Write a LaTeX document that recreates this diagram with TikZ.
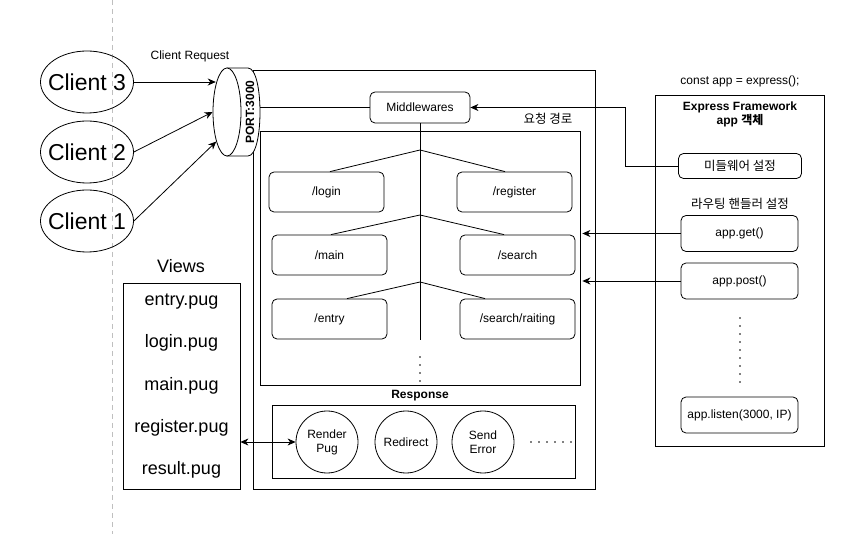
\documentclass[tikz,border=0pt]{standalone}
\usepackage{fontspec}
\setmainfont{Liberation Sans}
\newfontfamily\kr{Noto Sans CJK KR}
\usetikzlibrary{arrows.meta,shapes.geometric}
\begin{document}
\begin{tikzpicture}[x=1pt,y=-1pt,line width=0.8pt,
  base/.style={font=\fontsize{12}{14}\selectfont},
  krtext/.style={font=\fontsize{12.5}{14}\selectfont\kr},
  client/.style={ellipse,draw,minimum width=93pt,minimum height=62pt,inner xsep=-7pt,inner ysep=0pt,font=\fontsize{23}{26}\selectfont},
  rbox/.style={draw,rounded corners=5pt,minimum width=115pt,minimum height=40pt,inner sep=0pt,font=\fontsize{12}{14}\selectfont},
  circ/.style={circle,draw,minimum size=62pt,inner sep=0pt,align=center,font=\fontsize{12}{14}\selectfont},
  plainbox/.style={draw,inner sep=0pt},
  view/.style={font=\fontsize{18}{20}\selectfont},
  arr/.style={-{Stealth[length=8pt,width=7pt,inset=2.5pt]}},
  dotline/.style={dash pattern=on 0pt off 8pt,line cap=round,line width=1.8pt},
  sepline/.style={draw=black!25,dash pattern=on 5pt off 4pt,line width=0.8pt}]
\path[use as bounding box] (0,0) rectangle (865,534);
\draw[sepline] (112,0) -- (112,534);

% clients
\node[client] (c3) at (87,82) {Client 3};
\node[client] (c2) at (87,152) {Client 2};
\node[client] (c1) at (87,221) {Client 1};
\node[base] (creq) at (190,56) {Client Request};

% server
\node[plainbox,minimum width=342pt,minimum height=419pt] (server) at (424,279.5) {};
\node[plainbox,minimum width=320pt,minimum height=254pt] (routes) at (420,258) {};
\node[krtext] (path) at (548,119) {요청 경로};
\node[rbox,minimum width=100pt,minimum height=31pt] (mw) at (420,107.5) {Middlewares};

% cylinder
\draw[fill=white] (227,68) -- (248,68) .. controls (264,68) and (264,156) .. (248,156) -- (227,156) -- cycle;
\node[ellipse,draw,fill=white,minimum width=28pt,minimum height=88pt,inner sep=0pt] (port) at (227,112) {};
\node[rotate=90,font=\fontsize{12}{14}\selectfont\bfseries] (porttext) at (250,112) {PORT:3000};
\coordinate (portR) at (260,107.5);
\draw (portR) -- (mw.west);

\draw[arr] (c3.east) -- (c3.east -| port.112);
\draw[arr] (c2.east) -- (port.west);
\draw[arr] (c1.east) -- (port.250);

% routes
\node[rbox] (login) at (326.5,192) {/login};
\node[rbox] (register) at (514.5,192) {/register};
\node[rbox] (main) at (329.5,255) {/main};
\node[rbox] (search) at (517.5,255) {/search};
\node[rbox] (entry) at (329.5,319) {/entry};
\node[rbox] (raiting) at (517.5,319) {/search/raiting};

\coordinate (trunkend) at (420,340);
\draw (mw.south) -- (trunkend);
\coordinate (b1) at (420,150);
\coordinate (b2) at (420,215);
\coordinate (b3) at (420,282);
\draw ([xshift=3.5pt]login.north) -- (b1) -- ([xshift=-9.5pt]register.north);
\draw ([xshift=1.5pt]main.north) -- (b2) -- ([xshift=-13.5pt]search.north);
\draw ([xshift=17.5pt]entry.north) -- (b3) -- ([xshift=-32.5pt]raiting.north);
\draw[dotline] (420,357) -- (420,382);

% response
\node[font=\fontsize{12}{14}\selectfont\bfseries] (resplabel) at (420,396) {Response};
\node[plainbox,minimum width=303pt,minimum height=73pt] (resp) at (423.5,442) {};
\node[circ] (render) at (327,442) {Render\\Pug};
\node[circ] (redirect) at (406,442) {Redirect};
\node[circ] (senderr) at (483,442) {Send\\Error};
\draw[dotline] (531,442) -- (572,442);

% views
\node[view] (viewslabel) at (181,266) {Views};
\node[plainbox,minimum width=117pt,minimum height=206pt] (views) at (181.5,386) {};
\node[view] (v1) at (181.5,302) {entry.pug};
\node[view] (v2) at (181.5,343) {login.pug};
\node[view] (v3) at (181.5,386) {main.pug};
\node[view] (v4) at (181.5,428) {register.pug};
\node[view] (v5) at (181.5,470) {result.pug};
\draw[{Stealth[length=8pt,width=7pt,inset=2.5pt]}-{Stealth[length=8pt,width=7pt,inset=2.5pt]}] (views.east |- render.west) -- (render.west);

% express
\node[base] (constapp) at (740,81) {const app = express();};
\node[plainbox,minimum width=169pt,minimum height=351pt] (express) at (740,270.5) {};
\node[font=\fontsize{12}{14}\selectfont\bfseries,align=center] (extitle) at (740,114) {Express Framework\\app {\kr 객체}};
\node[rbox,minimum width=123pt,minimum height=25pt,font=\fontsize{12.5}{14}\selectfont\kr] (mwset) at (740,166) {미들웨어 설정};
\node[krtext] (routinglabel) at (740,204) {라우팅 핸들러 설정};
\node[rbox,minimum width=117pt,minimum height=36pt] (get) at (739.5,233.5) {app.get()};
\node[rbox,minimum width=117pt,minimum height=36pt] (post) at (739.5,281) {app.post()};
\draw[dotline] (740,318) -- (740,382);
\node[rbox,minimum width=117pt,minimum height=36pt] (listen) at (739.5,415) {app.listen(3000, IP)};

\draw[arr] (mwset.west) -- ++(-53,0) |- (mw.east);
\draw[arr] (get.west) -- ([xshift=2pt]get.west -| routes.east);
\draw[arr] (post.west) -- ([xshift=2pt]post.west -| routes.east);
\end{tikzpicture}
\end{document}
